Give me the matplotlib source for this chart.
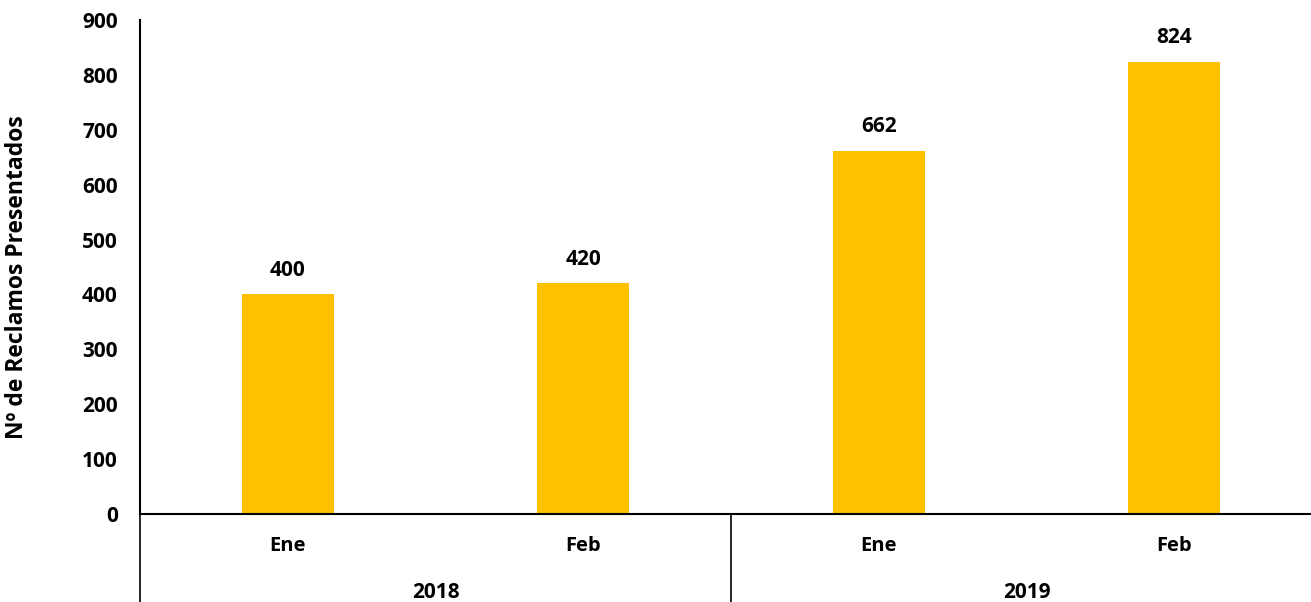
import matplotlib.pyplot as plt
import matplotlib.transforms as mtransforms

months = ["Ene", "Feb", "Ene", "Feb"]
years = ["2018", "2019"]
reclamos = [400, 420, 662, 824]
y_ticks = list(range(0, 1000, 100))

bar_color = "#FFC000"
font_num = "Open Sans"

fig = plt.figure(figsize=(13.11, 6.02), dpi=100)
# axes extends past the right edge like the original
ax = fig.add_axes([140 / 1311, 88 / 602, 1182 / 1311, 494 / 602])

x = list(range(len(months)))
bars = ax.bar(x, reclamos, width=0.31, color=bar_color, zorder=2)

for xi, v in zip(x, reclamos):
    ax.annotate(str(v), (xi, v), xytext=(0, 10), textcoords="offset points",
                ha="center", va="bottom", fontsize=15, fontweight="bold",
                family=font_num)

ax.set_xlim(-0.5, 3.5)
ax.set_ylim(0, 900)
ax.set_yticks(y_ticks)
ax.set_yticklabels([str(t) for t in y_ticks], fontsize=15, fontweight="bold",
                   family=font_num)
ax.tick_params(axis="y", length=0, pad=16)
ax.set_xticks(x)
ax.set_xticklabels(months, fontsize=14.5, fontweight="bold", family=font_num)
ax.tick_params(axis="x", length=0, pad=16)

for s in ["top", "right"]:
    ax.spines[s].set_visible(False)
for s in ["left", "bottom"]:
    ax.spines[s].set_linewidth(1.5)
    ax.spines[s].set_color("black")

ax.set_ylabel("Nº de Reclamos Presentados", fontsize=16.5, fontweight="bold",
              family=font_num)
ax.yaxis.set_label_coords(-0.094, 0.48)

# year group labels and separators under the axis
trans = mtransforms.blended_transform_factory(ax.transData, ax.transAxes)
for i, yr in enumerate(years):
    ax.text(2 * i + 0.5, -0.158, yr, transform=trans, ha="center", va="center",
            fontsize=15, fontweight="bold", family=font_num)
for xs in [-0.5, 1.5, 3.5]:
    ax.plot([xs, xs], [0, -0.2], transform=trans, color="black", lw=1.2,
            clip_on=False)

fig.savefig("out.png", dpi=100)
